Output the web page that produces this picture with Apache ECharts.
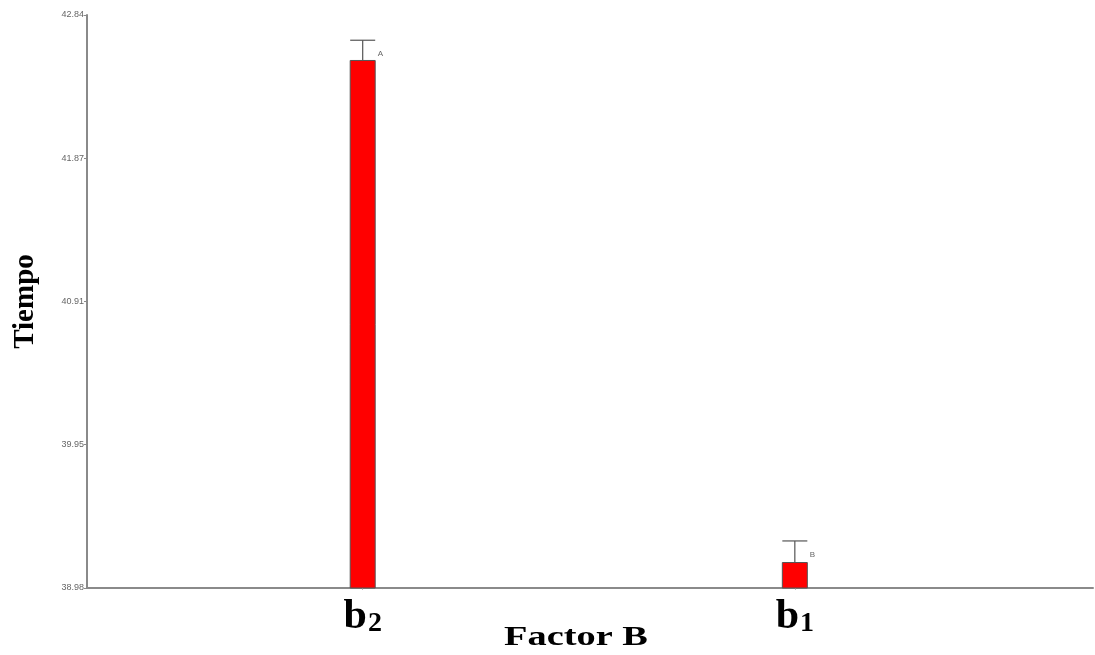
<!DOCTYPE html>
<html>
<head>
<meta charset="utf-8">
<script src="https://cdn.jsdelivr.net/npm/echarts@6/dist/echarts.min.js"></script>
<style>
html, body { margin: 0; padding: 0; background: #fff; }
#chart { width: 1095px; height: 655px; }
</style>
</head>
<body>
<div id="chart"></div>
<script>
// datos
var categories = ['b2', 'b1'];
var catPos = [1, 2];
var means = [42.537, 39.155];
var errTop = [42.67, 39.297];
var letters = ['A', 'B'];
var yTicks = [38.98, 39.945, 40.91, 41.875, 42.84];
var yTickLabels = ['38.98', '39.95', '40.91', '41.87', '42.84'];
var xTitle = 'Factor B';
var yTitle = 'Tiempo';

var serif = '"Liberation Serif", "DejaVu Serif", serif';

function barData() {
	var out = [];
	for (var i = 0; i < categories.length; i++) {
		out.push([catPos[i], means[i]]);
	}
	return out;
}

function errData() {
	var out = [];
	for (var i = 0; i < categories.length; i++) {
		out.push([catPos[i], means[i], errTop[i], letters[i]]);
	}
	return out;
}

var chart = echarts.init(document.getElementById('chart'));
chart.setOption({
	animation: false,
	backgroundColor: '#fff',
	grid: { left: 87, top: 15, right: 2, bottom: 67, containLabel: false, outerBoundsMode: 'none' },
	graphic: [
		{
			type: 'text',
			x: 576,
			y: 638,
			scaleX: 1.37,
			style: { text: xTitle, fontFamily: serif, fontWeight: 'bold', fontSize: 28, fill: '#000', textAlign: 'center', textVerticalAlign: 'middle' }
		}
	],
	xAxis: {
		type: 'value',
		min: 0.362,
		max: 2.69,
		splitLine: { show: false },
		axisLine: { lineStyle: { color: '#8a8a8a', width: 2 } },
		axisTick: { show: true, length: 2, lineStyle: { color: '#bbb' }, customValues: catPos },
		axisLabel: {
			customValues: catPos,
			margin: 10,
			formatter: function(v) {
				var idx = catPos.indexOf(v);
				if (idx < 0) return '';
				var c = categories[idx];
				return '{b|' + c.charAt(0) + '}{s|' + c.substring(1) + '}';
			},
			rich: {
				b: { fontFamily: serif, fontWeight: 'bold', fontSize: 42, color: '#000', lineHeight: 40, verticalAlign: 'bottom' },
				s: { fontFamily: serif, fontWeight: 'bold', fontSize: 28, color: '#000', lineHeight: 40, verticalAlign: 'bottom', padding: [0, 0, 0, 1] }
			}
		}
	},
	yAxis: {
		type: 'value',
		min: 38.98,
		max: 42.84,
		splitLine: { show: false },
		axisLine: { show: true, lineStyle: { color: '#8a8a8a', width: 2 } },
		axisTick: { show: true, length: 3, lineStyle: { color: '#8a8a8a' }, customValues: yTicks },
		axisLabel: {
			customValues: yTicks,
			margin: 3,
			fontSize: 9,
			color: '#666',
			fontFamily: 'Arial, "Liberation Sans", sans-serif',
			formatter: function(v) {
				var idx = yTicks.indexOf(v);
				return idx < 0 ? '' : yTickLabels[idx];
			}
		},
		name: yTitle,
		nameLocation: 'middle',
		nameGap: 47,
		nameRotate: 90,
		nameTextStyle: { fontFamily: serif, fontWeight: 'bold', fontSize: 29, color: '#000' }
	},
	series: [
		{
			type: 'bar',
			data: barData(),
			barWidth: 26,
			itemStyle: { color: '#ff0000', borderColor: '#555', borderWidth: 1 }
		},
		{
			type: 'custom',
			data: errData(),
			z: 5,
			renderItem: function(params, api) {
				var base = api.coord([api.value(0), api.value(1)]);
				var top = api.coord([api.value(0), api.value(2)]);
				var half = 12.5;
				var letter = letters[params.dataIndex];
				return {
					type: 'group',
					children: [
						{ type: 'line', shape: { x1: base[0], y1: base[1], x2: top[0], y2: top[1] }, style: { stroke: '#555', lineWidth: 1.2 } },
						{ type: 'line', shape: { x1: top[0] - half, y1: top[1], x2: top[0] + half, y2: top[1] }, style: { stroke: '#555', lineWidth: 1.2 } },
						{ type: 'text', x: top[0] + 15, y: top[1] + 14, style: { text: letter, fontSize: 8, fill: '#666', fontFamily: 'Arial, "Liberation Sans", sans-serif', textAlign: 'left', textVerticalAlign: 'middle' } }
					]
				};
			}
		}
	]
});
</script>
</body>
</html>
